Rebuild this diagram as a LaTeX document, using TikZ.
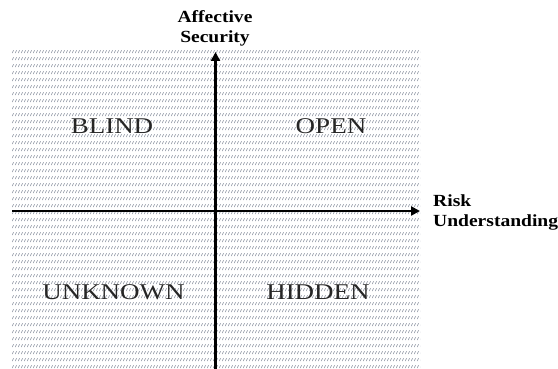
\documentclass[tikz,border=0pt]{standalone}
\usepackage{fontspec}
\setmainfont{Liberation Serif}
\newfontfamily\axisfont[FakeStretch=1.15]{Liberation Serif}
\newfontfamily\quadfont[FakeStretch=1.2]{Liberation Serif}
\usetikzlibrary{patterns.meta,arrows.meta}
\tikzdeclarepattern{
  name=hatchrows,
  type=uncolored,
  bounding box={(0pt,0pt) and (3pt,6.7pt)},
  tile size={(3pt,6.7pt)},
  code={\draw[line width=0.7pt] (0pt,1pt) -- (2.3pt,3.8pt);}
}
\definecolor{hatchgray}{HTML}{8E95A2}
\tikzset{
  axisline/.style={line width=2.6pt,-{Triangle[length=9pt,width=9pt]}},
  axislabel/.style={font=\axisfont\bfseries\fontsize{17}{20}\selectfont, inner sep=0pt},
  quadlabel/.style={font=\quadfont\fontsize{22.5}{24}\selectfont, text=black!85, inner sep=0pt, anchor=base}
}
\begin{document}
\begin{tikzpicture}[x=1pt,y=-1pt]
\useasboundingbox (0,0) rectangle (558,369);
\fill[pattern={hatchrows}, pattern color=hatchgray] (12,50) rectangle (420,369);
\coordinate (vbot) at (215.5,369);
\coordinate (vtop) at (215.5,52);
\coordinate (hleft) at (12,211);
\coordinate (hright) at (420,211);
\draw[axisline] (vbot) -- (vtop);
\draw[axisline] (hleft) -- (hright);
\node[axislabel, align=center] (ylab) at (215,28) {Affective\\Security};
\node[axislabel, align=left, anchor=west] (xlab) at (433,212) {Risk\\Understanding};
\node[quadlabel] (blind) at (112,134) {BLIND};
\node[quadlabel] (open) at (331,134) {OPEN};
\node[quadlabel] (unknown) at (113.5,299) {UNKNOWN};
\node[quadlabel] (hidden) at (318,299) {HIDDEN};
\end{tikzpicture}
\end{document}
